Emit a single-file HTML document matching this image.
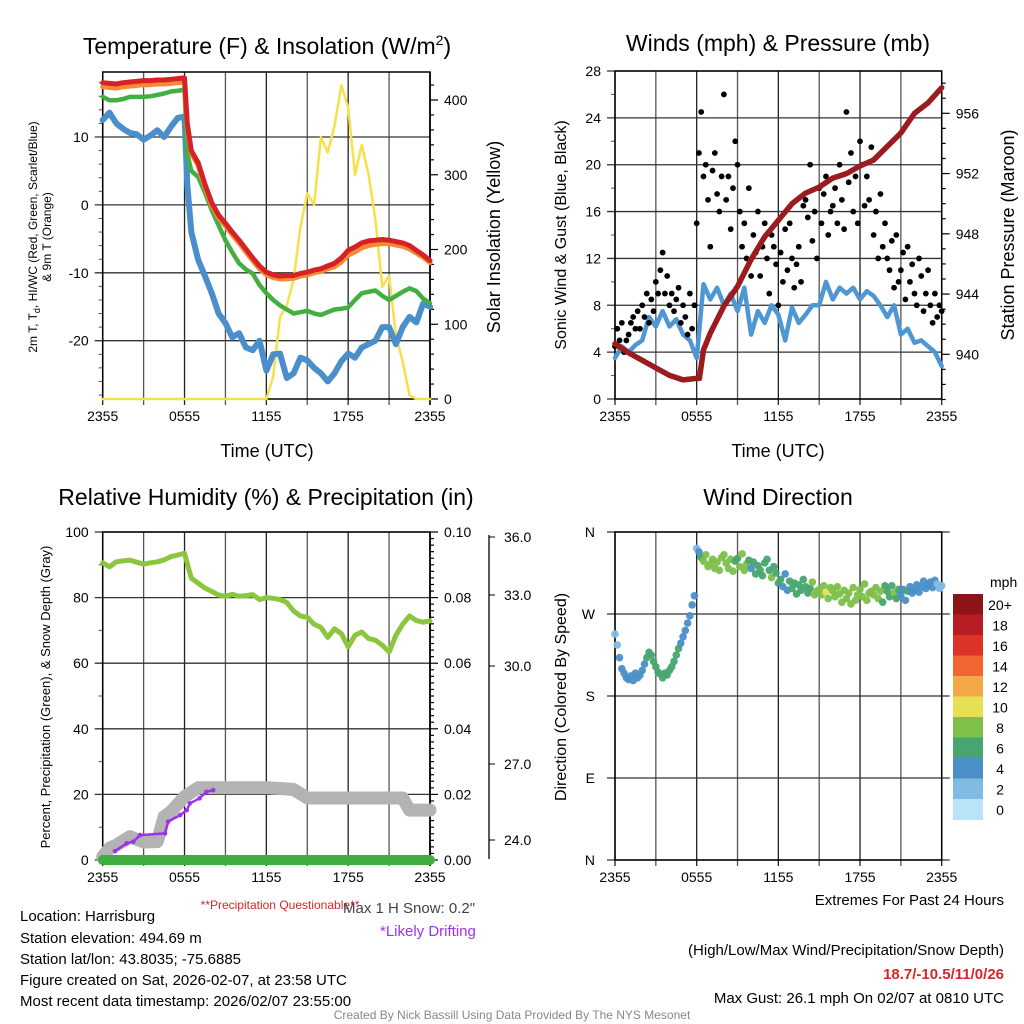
<!DOCTYPE html>
<html><head><meta charset="utf-8">
<style>
html,body{margin:0;padding:0;background:#fff;}
svg{display:block;font-family:"Liberation Sans",Arial,sans-serif;}
</style></head>
<body>
<svg id="chart" width="1024" height="1024" viewBox="0 0 1024 1024" xmlns="http://www.w3.org/2000/svg">
<rect width="1024" height="1024" fill="#fff"/>
<g id="layer"></g>
<text x="267" y="54" font-size="23" text-anchor="middle">Temperature (F) &amp; Insolation (W/m<tspan font-size="14" dy="-9">2</tspan><tspan dy="9">)</tspan></text>
<text x="778" y="51" font-size="23" text-anchor="middle">Winds (mph) &amp; Pressure (mb)</text>
<text x="266" y="505" font-size="23" text-anchor="middle">Relative Humidity (%) &amp; Precipitation (in)</text>
<text x="778" y="505" font-size="23" text-anchor="middle">Wind Direction</text>
<text x="267" y="457" font-size="18" text-anchor="middle">Time (UTC)</text>
<text x="778" y="457" font-size="18" text-anchor="middle">Time (UTC)</text>
<text transform="translate(37,237) rotate(-90)" font-size="12" text-anchor="middle">2m T, T<tspan font-size="9" dy="3">d</tspan><tspan dy="-3">, HI/WC (Red, Green, Scarlet/Blue)</tspan></text>
<text transform="translate(51,237) rotate(-90)" font-size="12" text-anchor="middle">&amp; 9m T (Orange)</text>
<text transform="translate(500,237) rotate(-90)" font-size="18" text-anchor="middle">Solar Insolation (Yellow)</text>
<text transform="translate(566,235) rotate(-90)" font-size="16" text-anchor="middle">Sonic Wind &amp; Gust (Blue, Black)</text>
<text transform="translate(1014,235) rotate(-90)" font-size="18" text-anchor="middle">Station Pressure (Maroon)</text>
<text transform="translate(50,697) rotate(-90)" font-size="13" text-anchor="middle">Percent, Precipitation (Green), &amp; Snow Depth (Gray)</text>
<text transform="translate(566,697) rotate(-90)" font-size="16" text-anchor="middle">Direction (Colored By Speed)</text>
<g font-size="15">
<text x="20" y="921">Location: Harrisburg</text>
<text x="20" y="943">Station elevation: 494.69 m</text>
<text x="20" y="964">Station lat/lon: 43.8035; -75.6885</text>
<text x="20" y="985">Figure created on Sat, 2026-02-07, at 23:58 UTC</text>
<text x="20" y="1006">Most recent data timestamp: 2026/02/07 23:55:00</text>
</g>
<text x="280" y="909" font-size="12" fill="#d62728" text-anchor="middle">**Precipitation Questionable**</text>
<text x="343" y="913" font-size="15" fill="#444">Max 1 H Snow: 0.2"</text>
<text x="380" y="936" font-size="15" fill="#a030f0">*Likely Drifting</text>
<g font-size="15" text-anchor="end">
<text x="1004" y="905">Extremes For Past 24 Hours</text>
<text x="1004" y="955">(High/Low/Max Wind/Precipitation/Snow Depth)</text>
<text x="1004" y="979" fill="#d62728" font-weight="bold">18.7/-10.5/11/0/26</text>
<text x="1004" y="1003">Max Gust: 26.1 mph On 02/07 at 0810 UTC</text>
</g>
<text x="512" y="1019" font-size="12" fill="#888" text-anchor="middle">Created By Nick Bassill Using Data Provided By The NYS Mesonet</text>
</svg>
<script>
// ---------- data ----------
const timeLabels = ["2355","0555","1155","1755","2355"];
const halfHours = [];
for (let i = 0; i <= 48; i++) halfHours.push(i / 2);
const tempHours = [0,0.5,1,1.5,2,2.5,3,3.5,4,4.5,5,5.5,6,6.2,6.5,7,7.5,8,8.5,9,9.5,10,10.5,11,11.5,12,12.5,13,13.5,14,14.5,15,15.5,16,16.5,17,17.5,18,18.5,19,19.5,20,20.5,21,21.5,22,22.5,23,23.5,24];
const tempRed = [18.0,17.9,17.8,18.0,18.1,18.2,18.3,18.3,18.4,18.4,18.5,18.6,18.7,12.0,8.0,6.2,3.0,0.3,-1.5,-2.7,-4.0,-5.2,-6.5,-7.8,-9.0,-9.9,-10.3,-10.5,-10.4,-10.4,-10.1,-9.9,-9.6,-9.4,-9.0,-8.6,-7.8,-6.7,-6.2,-5.6,-5.3,-5.2,-5.1,-5.2,-5.4,-5.6,-6.0,-6.7,-7.4,-8.2];
const tempOrange = [17.4,17.3,17.2,17.4,17.5,17.6,17.7,17.7,17.8,17.8,17.9,18.0,18.1,11.5,7.6,5.8,2.6,-0.1,-1.9,-3.1,-4.4,-5.6,-6.9,-8.2,-9.4,-10.3,-10.7,-10.9,-10.9,-10.8,-10.5,-10.3,-10.0,-9.8,-9.4,-9.1,-8.4,-7.4,-6.9,-6.3,-6.0,-5.8,-5.7,-5.7,-5.9,-6.1,-6.5,-7.1,-7.7,-8.5];
const tempGreen = [15.9,15.4,15.4,15.6,15.9,15.9,15.9,16.0,16.2,16.4,16.7,16.8,17.0,7.5,5.0,4.1,1.8,-0.8,-3.0,-5.2,-7.0,-8.6,-9.5,-10.1,-11.8,-13.0,-14.0,-14.8,-15.4,-16.0,-15.8,-15.6,-16.0,-16.2,-15.8,-15.4,-15.3,-15.1,-14.0,-13.0,-12.8,-12.6,-13.4,-14.0,-13.4,-12.8,-12.3,-12.7,-13.8,-14.5];
const tempBlue = [12.5,13.6,12.0,11.2,10.6,10.4,9.6,10.2,11.0,10.0,11.5,12.8,13.0,3.0,-4.0,-8.1,-10.5,-13.0,-16.0,-17.4,-19.5,-18.9,-21.0,-21.4,-20.0,-24.4,-22.0,-21.9,-25.5,-24.8,-22.5,-22.9,-24.0,-24.8,-26.0,-24.8,-23.0,-21.9,-22.5,-21.0,-20.5,-20.0,-18.0,-18.0,-20.5,-18.0,-16.5,-17.3,-14.5,-15.0];
const solar = [0,0,0,0,0,0,0,0,0,0,0,0,0,0,0,0,0,0,0,0,0,0,0,0,0,30,110,125,160,230,275,260,350,330,365,420,390,300,340,300,240,150,165,85,50,5,0,0,0];

const windBlue = [3.5,4.5,4.0,4.6,5.0,7.0,6.2,7.5,6.2,6.8,5.5,5.0,3.5,9.8,8.5,9.5,8.0,9.0,7.5,9.5,5.5,7.5,6.5,8.0,7.2,5.0,7.8,6.5,7.2,8.0,8.0,10.0,8.5,9.5,9.0,9.5,8.5,9.2,8.8,8.0,7.0,8.0,5.5,6.0,4.8,5.0,4.5,4.0,2.8];
const pressureHours = [0,1,2,3,4,5,6,6.2,6.5,7,8,9,10,11,12,13,14,15,16,17,18,19,20,21,22,23,24];
const pressure = [940.7,940.1,939.6,939.1,938.6,938.3,938.4,938.4,940.3,941.4,943.2,944.5,946.3,947.8,948.9,950.0,950.7,951.1,951.7,952.0,952.5,952.9,953.8,954.7,956.0,956.7,957.7];
const gusts = [4.5,6,5,6.5,4,5, 5.5,6.5,7,6,7.5,6, 8,7,9,6.5,8.5,7.5, 10,9,11,12.5,9,10.5, 8,9,7.5,8.5,9.5,6.5, 8,7,5.5,9,6,8, 15,21,24.5,19,20,17, 13,19.5,21,17.5,16,19, 26,17,19,14.5,18,22, 20,16,13,15,12,18, 10.5,14,12.5,16,10.5,13, 15,12,9,14,13,11.5, 8,12.5,10,14.5,11,15, 12,9.5,11.5,13,10,16.5, 17,15.5,20,13.5,16,12, 18,15,17.5,19,14,16, 16.5,18,15,20,17,14.5, 24.5,18.5,21,16,19,15, 22,20,16.5,19,17,21.5, 14,16,12,17.5,13,15, 12,11,13.5,9.5,14,10, 11,12.5,8.5,13,10,11.5, 9,8,12,10.5,7.5,9, 11,8,6.5,9,7,8, 7.5];

const rh = [90.6,89.4,90.9,91.2,91.4,90.8,90.2,90.6,90.9,91.5,92.5,93.0,93.5,85.9,84.4,82.9,81.9,80.8,80.4,81.0,80.4,80.6,80.9,79.4,80.0,79.8,79.4,78.5,75.9,74.4,74.0,71.9,70.9,67.9,70.5,69.0,65.0,68.5,69.5,67.5,67.0,65.5,63.4,68.5,71.9,74.4,73.0,72.5,72.9];
const precip = [0,0,0,0,0,0,0,0,0,0,0,0,0,0,0,0,0,0,0,0,0,0,0,0,0,0,0,0,0,0,0,0,0,0,0,0,0,0,0,0,0,0,0,0,0,0,0,0,0];
const snowHours = [0,0.5,1,2,3,4,4.5,5,6,7,8,10,12,13,14,15,18,21,22,22.5,24];
const snowDepth = [1,3.6,4.5,7.1,5.5,5.6,13.2,14.7,19.3,22,22,22,22,21.8,21.5,18.9,18.9,18.9,18.9,15.2,15.2];
const driftHours = [0.9,1.76,2.25,2.74,4.57,4.8,5.67,6.16,6.4,7.1,7.6,8.1];
const driftVals = [2.7,5.1,5.6,7.6,8.1,11.7,13.7,15.2,17.3,18.8,20.8,21.3];
const precipTicks = ["0.00","0.02","0.04","0.06","0.08","0.10"];
const snowTickLabels = ["36.0","33.0","30.0","27.0","24.0"];

const windDir = [248,236,222,210,205,200, 198,202,197,205,200,203, 208,215,222,228,225,218, 212,206,204,200,205,203, 208,212,218,225,232,238, 245,252,260,268,280,290, 342,338,332,328,335,322, 325,330,320,327,318,332, 335,326,320,330,317,328, 331,322,336,318,325,329, 320,327,314,323,318,312, 326,330,318,310,322,315, 304,308,300,314,296,306, 298,304,292,302,296,308, 300,293,298,305,291,295, 297,291,301,294,287,299, 295,289,300,292,283,296, 287,293,281,299,285,291, 297,289,303,285,293,295, 291,299,287,295,283,301, 295,289,301,293,287,297, 291,297,285,295,300,293, 296,302,294,300,306,298, 302,305,299,307,303,298, 301];
const dirLabels = ["N","E","S","W","N"];
const speedBinLabels = ["0","2","4","6","8","10","12","14","16","18","20+"];
const speedBinColors = ["#b8e3f8","#7fbbe5","#4a8fc7","#48a56f","#7dc04a","#e6e055","#f5a847","#f06530","#dc3228","#b81c24","#8c1418"];

// ---------- helpers ----------
const NS = "http://www.w3.org/2000/svg";
const layer = document.getElementById("layer");
function mk(tag, attrs, parent) {
  const e = document.createElementNS(NS, tag);
  for (const k in attrs) e.setAttribute(k, attrs[k]);
  (parent || layer).appendChild(e);
  return e;
}
function lin(d0, d1, r0, r1) { return v => r0 + (v - d0) * (r1 - r0) / (d1 - d0); }
function pathFrom(ts, vs, sx, sy) {
  return ts.map((t, i) => (i ? "L" : "M") + sx(t).toFixed(1) + "," + sy(vs[i]).toFixed(1)).join("");
}
function interp(ts, vs, t) {
  for (let i = 1; i < ts.length; i++) if (t <= ts[i]) {
    const f = (t - ts[i-1]) / (ts[i] - ts[i-1]); return vs[i-1] + f * (vs[i] - vs[i-1]);
  }
  return vs[vs.length - 1];
}
function timeAxis(x0, x1, y0, y1) {
  const sx = lin(0, 24, x0, x1);
  for (let h = 0; h <= 24; h += 3) {
    const g = mk("line", {x1: sx(h), x2: sx(h), y1: y0, y2: y1 + 6, stroke: (h % 6 === 0) ? "#222" : "#555", "stroke-width": 1.3});
    
    
  }
  timeLabels.forEach((lab, i) => {
    const t = mk("text", {x: sx(i * 6), y: y1 + 22, "font-size": 14, "text-anchor": "middle"});
    t.textContent = lab;
    
    
  });
  return sx;
}
function frame(x0, x1, y0, y1) {
  const r = mk("rect", {x: x0, y: y0, width: x1 - x0, height: y1 - y0, fill: "none", stroke: "#000", "stroke-width": 1.5});
  
  
}
function hGrid(y, x0, x1, label, lx, anchor) {
  const l = mk("line", {x1: x0 - 8, x2: x1, y1: y, y2: y, stroke: "#333", "stroke-width": 1.3});
  
  
  if (label !== null) {
    const t = mk("text", {x: lx, y: y + 5, "font-size": 14, "text-anchor": anchor || "end"});
    t.textContent = label;
    
    
  }
}
function rightTick(x, y, len, label) {
  const l = mk("line", {x1: x, x2: x + len, y1: y, y2: y, stroke: "#000", "stroke-width": 1.2});
  
  
  if (label !== null) {
    const t = mk("text", {x: x + len + 6, y: y + 5, "font-size": 14});
    t.textContent = label;
    
    
  }
}
function line(d, color, w, name) {
  const p = mk("path", {d: d, fill: "none", stroke: color, "stroke-width": w, "stroke-linejoin": "round", "stroke-linecap": "round"});
  
  
  return p;
}

// ---------- panel 1: temperature ----------
(function(){
  const X0 = 102.7, X1 = 430, Y0 = 72, Y1 = 399;
  const sx = timeAxis(X0, X1, Y0, Y1);
  const sy = lin(10, -20, 137, 340.7);
  const sr = lin(0, 400, 399, 100);
  [10, 0, -10, -20].forEach(v => hGrid(sy(v), X0, X1, String(v), X0 - 14));
  for (let v = -28; v <= 18; v += 2) if (v % 10) { const l = mk("line", {x1: X0 - 4, x2: X0, y1: sy(v), y2: sy(v), stroke: "#555"});   }
  mk("line", {x1: X1, x2: X1, y1: Y0, y2: Y1 + 6, stroke: "#000", "stroke-width": 1.5});
  for (let v = 0; v <= 425; v += 20) rightTick(X1, sr(v), v % 100 ? 4 : 8, v % 100 ? null : String(v));
  frame(X0, X1, Y0, Y1);
  line(pathFrom(halfHours, solar, sx, sr), "#f7e04a", 2.5, "solar-insolation-line");
  line(pathFrom(tempHours, tempBlue, sx, sy), "#4a8fcc", 6, "dewpoint-line");
  line(pathFrom(tempHours, tempGreen, sx, sy), "#42b040", 4.5, "wind-chill-line");
  line(pathFrom(tempHours, tempOrange, sx, sy), "#f58a35", 5, "temp-9m-line");
  line(pathFrom(tempHours, tempRed, sx, sy), "#d62226", 5, "temp-2m-line");
})();

// ---------- panel 2: winds ----------
(function(){
  const X0 = 615, X1 = 941.7, Y0 = 71, Y1 = 399;
  const sx = timeAxis(X0, X1, Y0, Y1);
  const sy = lin(0, 28, 399, 71);
  const sp = lin(940, 956, 354.3, 113.3);
  for (let v = 0; v <= 28; v += 4) hGrid(sy(v), X0, X1, String(v), X0 - 14);
  for (let v = 2; v <= 26; v += 4) { const l = mk("line", {x1: X0 - 4, x2: X0, y1: sy(v), y2: sy(v), stroke: "#555"});   }
  for (let v = 937; v <= 958; v += 1) rightTick(X1, sp(v), (v % 4 === 0) ? 8 : 4, (v % 4 === 0) ? String(v) : null);
  frame(X0, X1, Y0, Y1);
  line(pathFrom(halfHours, windBlue, sx, sy), "#4f97d4", 4.5, "sonic-wind-line");
  gusts.forEach((g, i) => {
    const c = mk("circle", {cx: sx(i / 6), cy: sy(g), r: 2.9, fill: "#000"});
    
    
  });
  line(pathFrom(pressureHours, pressure, sx, sp), "#9b1c1f", 5.5, "pressure-line");
})();

// ---------- panel 3: humidity ----------
(function(){
  const X0 = 102.7, X1 = 430, Y0 = 532, Y1 = 860;
  const sx = timeAxis(X0, X1, Y0, Y1);
  const sy = lin(0, 100, 860, 532);
  for (let v = 0; v <= 100; v += 20) hGrid(sy(v), X0, X1, String(v), X0 - 14);
  for (let v = 10; v <= 90; v += 20) { const l = mk("line", {x1: X0 - 4, x2: X0, y1: sy(v), y2: sy(v), stroke: "#555"});   }
  mk("line", {x1: X1, x2: X1, y1: Y0, y2: Y1 + 6, stroke: "#000", "stroke-width": 1.5});
  const sPr = lin(0, 0.1, 860, 532);
  for (let i = 0; i <= 50; i++) rightTick(X1, sPr(i * 0.002), i % 10 ? 4 : 8, i % 10 ? null : precipTicks[i / 10]);
  const ax = mk("line", {x1: 489, x2: 489, y1: 535, y2: 859, stroke: "#000", "stroke-width": 1.3});
  
  
  const snowPos = [537, 595, 666, 764, 840];
  snowTickLabels.forEach((lab, i) => {
    const l = mk("line", {x1: 489, x2: 495, y1: snowPos[i], y2: snowPos[i], stroke: "#000"});
    
    
    const t = mk("text", {x: 504, y: snowPos[i] + 5, "font-size": 14});
    t.textContent = lab;
    
    
  });
  frame(X0, X1, Y0, Y1);
  line(pathFrom(snowHours, snowDepth, sx, sy), "#b3b3b3", 13, "snow-depth-line");
  line(pathFrom(halfHours, precip, sx, sy), "#3fae3f", 10, "precipitation-line");
  driftHours.forEach((h, i) => {
    const c = mk("circle", {cx: sx(h), cy: sy(driftVals[i]), r: 2.3, fill: "#a030f0"});
    
    
  });
  line(pathFrom(driftHours, driftVals, sx, sy), "#a030f0", 2.5, "drifting-line");
  line(pathFrom(halfHours, rh, sx, sy), "#8cc63f", 5, "relative-humidity-line");
})();

// ---------- panel 4: wind direction ----------
(function(){
  const X0 = 615, X1 = 941.7, Y0 = 532, Y1 = 860;
  const sx = timeAxis(X0, X1, Y0, Y1);
  const sy = lin(0, 360, 860, 532);
  dirLabels.forEach((lab, i) => hGrid(sy(i * 90), X0, X1 + 8, lab, X0 - 20));
  frame(X0, X1, Y0, Y1);
  windDir.forEach((d, i) => {
    const t = i / 6;
    const spd = interp(halfHours, windBlue, t);
    const bin = Math.min(10, Math.floor(spd / 2));
    const c = mk("circle", {cx: sx(t), cy: sy(d), r: 3.8, fill: speedBinColors[bin], "fill-opacity": 0.95});
    
    
  });
  const cbTop = 594, cbH = 20.5;
  const cap = mk("text", {x: 990, y: 587, "font-size": 14});
  cap.textContent = "mph";
  
  
  speedBinColors.slice().reverse().forEach((col, i) => {
    const r = mk("rect", {x: 953, y: cbTop + i * cbH, width: 30, height: cbH + 0.5, fill: col});
    
    
    const t = mk("text", {x: 1000, y: cbTop + i * cbH + 16, "font-size": 14, "text-anchor": "middle"});
    t.textContent = speedBinLabels[10 - i];
    
    
  });
})();
</script>
</body></html>
